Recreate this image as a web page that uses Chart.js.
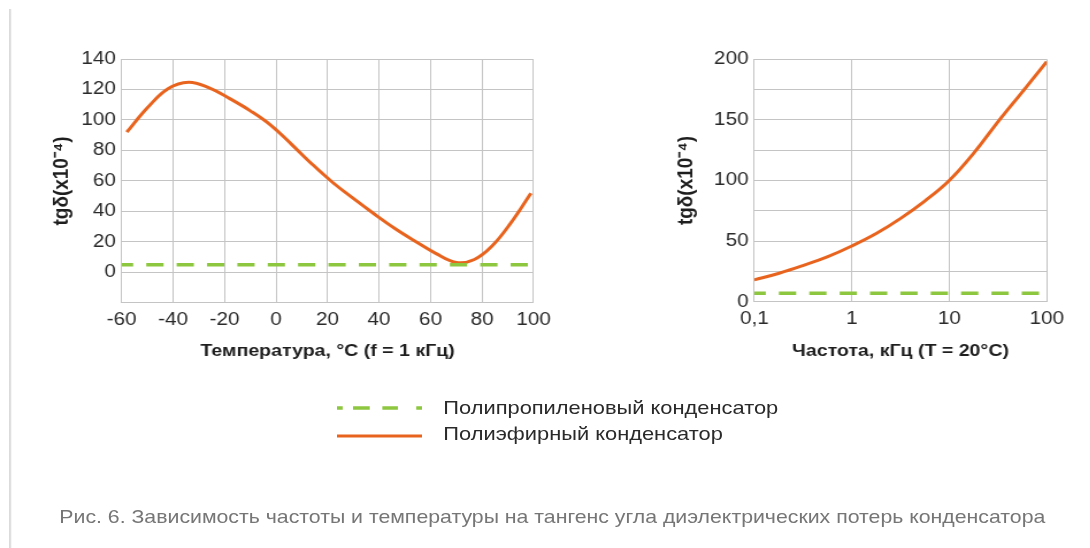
<!DOCTYPE html>
<html><head><meta charset="utf-8">
<script src="https://cdn.jsdelivr.net/npm/chart.js@4.4.1/dist/chart.umd.min.js"></script>
<style>
html,body{margin:0;padding:0;background:#fff;width:1090px;height:548px;overflow:hidden;}
#stage{position:absolute;left:0;top:0;width:948px;height:548px;transform:scaleX(1.15);transform-origin:0 0;font-family:'Liberation Sans',Arial,sans-serif;}
#bar{position:absolute;left:7.8px;top:9px;width:2.6px;height:539px;background:linear-gradient(to right,#cfcfcf,#ededed);}
#w1{position:absolute;left:0;top:0;width:490px;height:380px;}
#w2{position:absolute;left:490px;top:0;width:458px;height:380px;}
.legsw{position:absolute;left:293px;width:74px;height:10px;}
.legtx{position:absolute;left:385.5px;height:26px;line-height:26px;font-size:19px;color:#2a2a2a;white-space:nowrap;}
#cap{position:absolute;left:51.6px;top:503.7px;height:26px;line-height:26px;font-size:18.5px;color:#767676;white-space:nowrap;}
</style></head>
<body>
<div id="stage">
  <div id="bar"></div>
  <div id="w1"><canvas id="c1" width="490" height="380"></canvas></div>
  <div id="w2"><canvas id="c2" width="458" height="380"></canvas></div>
  <svg class="legsw" style="top:403px" width="74" height="10"><line x1="0" y1="5" x2="74" y2="5" stroke="#8dc63f" stroke-width="3.5" stroke-dasharray="5 9 14.5 11 13.5 16 5"/></svg>
  <svg class="legsw" style="top:431px" width="74" height="10"><line x1="0" y1="5" x2="74" y2="5" stroke="#e8641e" stroke-width="3"/></svg>
  <div class="legtx" id="lg0" style="top:395px"></div>
  <div class="legtx" id="lg1" style="top:421px"></div>
  <div id="cap">Рис. 6. Зависимость частоты и температуры на тангенс угла диэлектрических потерь конденсатора</div>
</div>
<script>
// ---- data ----
const legendLabels = ['Полипропиленовый конденсатор', 'Полиэфирный конденсатор'];
const tempC = [-58, -50, -42, -34, -26, -18, -10, -2, 6, 14, 22, 30, 38, 46, 54, 62, 70, 77, 84, 91, 99];
const polyesterVsTemp = [92, 108, 120.5, 124.8, 121, 114, 106, 96.5, 84, 71, 59, 48.5, 38.5, 29, 20.5, 12.5, 6.5, 8.5, 17.5, 32, 52];
const tempRange = [-60, 100];
const polypropVsTemp = [5, 5];
const freqKHz = [0.1, 0.18, 0.32, 0.56, 1, 1.8, 3.2, 5.6, 10, 18, 32, 56, 100];
const polyesterVsFreq = [18, 23.5, 30, 37, 46, 56.5, 69, 83, 100, 123, 149, 173, 198];
const freqRange = [0.1, 100];
const polypropVsFreq = [7, 7];
const tempTicks = [-60, -40, -20, 0, 20, 40, 60, 80, 100];
const leftYGrid = [-20, 0, 20, 40, 60, 80, 100, 120, 140];
const leftYLabelled = [0, 20, 40, 60, 80, 100, 120, 140];
const freqTicks = [0.1, 1, 10, 100];
const freqTickLabels = ['0,1', '1', '10', '100'];
const rightYGrid = [0, 25, 50, 75, 100, 125, 150, 175, 200];
const rightYLabelled = [0, 50, 100, 150, 200];
const xTitleLeft = 'Температура, °C (f = 1 кГц)';
const xTitleRight = 'Частота, кГц (T = 20°C)';
const yTitle = 'tgδ(x10⁻⁴)';

// ---- styles ----
const FONT = "'Liberation Sans', Arial, sans-serif";
const GREEN = '#8dc63f', ORANGE = '#e8641e', GRID = '#c4c4c4', TICK = '#2a2a2a', TITLE = '#1e1e1e';

document.getElementById('lg0').textContent = legendLabels[0];
document.getElementById('lg1').textContent = legendLabels[1];

function pts(xs, ys){ return xs.map((x,i)=>({x:x, y:ys[i]})); }

function makeChart(id, cfg){
  return new Chart(document.getElementById(id), {
    type: 'line',
    data: { datasets: [
      { label: legendLabels[0], data: pts(cfg.gx, cfg.gy), borderColor: GREEN, borderWidth: 3.5,
        borderDash: [15, 11.4], borderDashOffset: 5, pointRadius: 0, fill: false, tension: 0 },
      { label: legendLabels[1], data: pts(cfg.ox, cfg.oy), borderColor: ORANGE, borderWidth: 3,
        pointRadius: 0, fill: false, tension: 0.4 }
    ]},
    options: {
      responsive: false, animation: false, events: [],
      layout: { padding: { left: 0, top: cfg.top, right: cfg.right, bottom: 0 } },
      plugins: { legend: { display: false }, tooltip: { enabled: false } },
      scales: {
        x: {
          type: cfg.xType, min: cfg.xMin, max: cfg.xMax,
          afterBuildTicks: s => { s.ticks = cfg.xTicks.map(v => ({ value: v })); },
          afterFit: s => { s.height = cfg.xH; },
          grid: { color: GRID, drawTicks: false, lineWidth: 1 },
          border: { color: GRID },
          ticks: { padding: cfg.xPad, color: TICK, maxRotation: 0, autoSkip: false,
                   font: { size: 18, family: FONT }, callback: cfg.xLabel },
          title: { display: true, text: cfg.xTitle, color: TITLE,
                   font: { size: 17, weight: 'bold', family: FONT }, padding: { top: 0, bottom: 18 } }
        },
        y: {
          type: 'linear', min: cfg.yMin, max: cfg.yMax,
          afterBuildTicks: s => { s.ticks = cfg.yGrid.map(v => ({ value: v })); },
          afterFit: s => { s.width = cfg.yW; },
          grid: { color: GRID, drawTicks: false, lineWidth: 1 },
          border: { color: GRID },
          ticks: { padding: 5, color: TICK, autoSkip: false, font: { size: 18, family: FONT },
                   callback: v => cfg.yLab.includes(v) ? String(v) : '' },
          title: { display: true, text: yTitle, color: TITLE,
                   font: { size: 19, weight: 'bold', family: FONT }, padding: { top: cfg.yTitleOff, bottom: 0 } }
        }
      }
    }
  });
}

makeChart('c1', {
  gx: tempRange, gy: polypropVsTemp, ox: tempC, oy: polyesterVsTemp,
  top: 59, right: 26.1, xType: 'linear', xMin: -60, xMax: 100, xTicks: tempTicks, xH: 77.1, xPad: 6,
  xLabel: v => String(v), xTitle: xTitleLeft,
  yMin: -20, yMax: 140, yGrid: leftYGrid, yLab: leftYLabelled, yW: 105.8, yTitleOff: 42.3
});
makeChart('c2', {
  gx: freqRange, gy: polypropVsFreq, ox: freqKHz, oy: polyesterVsFreq,
  top: 59.3, right: 37.8, xType: 'logarithmic', xMin: 0.1, xMax: 100, xTicks: freqTicks, xH: 78.3, xPad: 7,
  xLabel: v => { const i = freqTicks.findIndex(t => Math.abs(t - v) < 1e-9); return i >= 0 ? freqTickLabels[i] : ''; },
  xTitle: xTitleRight,
  yMin: 0, yMax: 200, yGrid: rightYGrid, yLab: rightYLabelled, yW: 165.9, yTitleOff: 95.7
});
</script>
</body></html>
